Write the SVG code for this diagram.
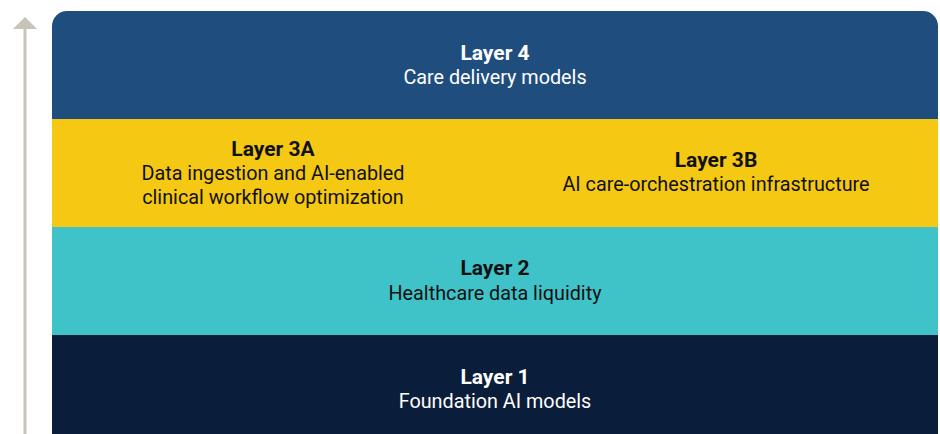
<svg xmlns="http://www.w3.org/2000/svg" width="940" height="434" viewBox="0 0 940 434">
  <style>
    .title { font-family: Roboto, "Liberation Sans", sans-serif; font-weight: bold; font-size: 21px; text-anchor: middle; }
    .sub { font-family: Roboto, "Liberation Sans", sans-serif; font-size: 19.8px; text-anchor: middle; }
    .light { fill: #ffffff; }
    .dark { fill: #111111; }
  </style>
  <defs>
    <clipPath id="stackClip">
      <rect x="52" y="11" width="886" height="440" rx="15" ry="15"/>
    </clipPath>
  </defs>

  <!-- upward axis arrow -->
  <g id="connectors" fill="#c9c4b8" stroke="#c9c4b8">
    <line x1="25" y1="434" x2="25" y2="28" stroke-width="3"/>
    <polygon points="13,29 25,17 37,29" stroke="none"/>
  </g>

  <g clip-path="url(#stackClip)">
    <g id="layer4">
      <rect x="52" y="11" width="886" height="108" fill="#1f4e7e"/>
      <text class="title light" x="495" y="60">Layer 4</text>
      <text class="sub light" x="495" y="84">Care delivery models</text>
    </g>
    <g id="layer3">
      <rect x="52" y="119" width="886" height="108" fill="#f5c813"/>
    </g>
    <g id="layer3a">
      <text class="title dark" x="273" y="156">Layer 3A</text>
      <text class="sub dark" x="273" y="180">Data ingestion and AI-enabled</text>
      <text class="sub dark" x="273" y="204">clinical workflow optimization</text>
    </g>
    <g id="layer3b">
      <text class="title dark" x="716" y="167">Layer 3B</text>
      <text class="sub dark" x="716" y="191">AI care-orchestration infrastructure</text>
    </g>
    <g id="layer2">
      <rect x="52" y="227" width="886" height="108" fill="#40c3c8"/>
      <text class="title dark" x="495" y="275">Layer 2</text>
      <text class="sub dark" x="495" y="300">Healthcare data liquidity</text>
    </g>
    <g id="layer1">
      <rect x="52" y="335" width="886" height="120" fill="#0a1d3a"/>
      <text class="title light" x="495" y="384">Layer 1</text>
      <text class="sub light" x="495" y="408">Foundation AI models</text>
    </g>
  </g>
</svg>
